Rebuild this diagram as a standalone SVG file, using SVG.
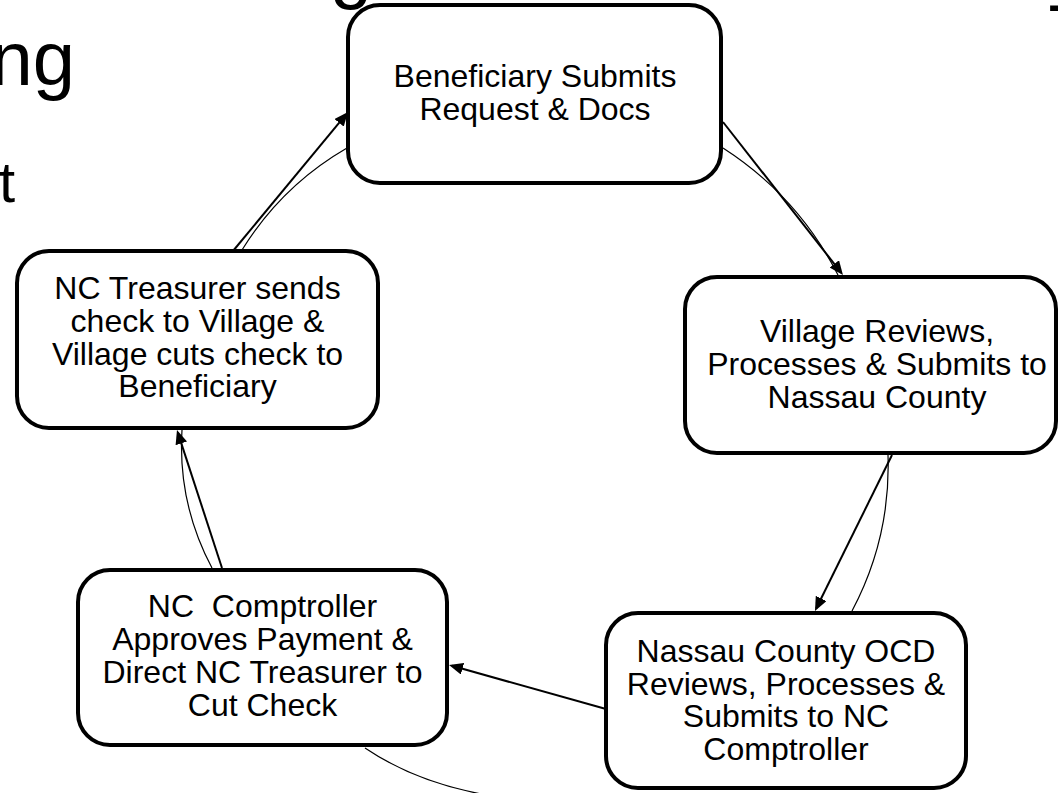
<svg xmlns="http://www.w3.org/2000/svg" width="1058" height="793" viewBox="0 0 1058 793">
<style>
.bg { font-family: "Liberation Sans", Arial, sans-serif; fill:#000; }
.node rect { fill:#fff; stroke:#000; stroke-width:4; }
.node text { font-family: "Liberation Sans", Arial, sans-serif; font-size:32px; text-anchor:middle; fill:#000; }
.arrow { stroke:#000; stroke-width:2; fill:none; marker-end:url(#ah); }
.arc { stroke:#000; stroke-width:1.2; fill:none; }
</style>
<defs>
<marker id="ah" viewBox="0 0 14 12" refX="11" refY="6" markerWidth="14" markerHeight="12" markerUnits="userSpaceOnUse" orient="auto">
<path d="M0,0 L14,6 L0,12 z" fill="#000"/>
</marker>
</defs>
<rect width="1058" height="793" fill="#fff"/>
<g id="background-text">
<text class="bg" x="75" y="85" font-size="76" text-anchor="end">ng</text>
<text class="bg" x="-1" y="202" font-size="58">t</text>
<text class="bg" x="330" y="-6" font-size="76">g</text>
<text class="bg" x="1047" y="27" font-size="70">-</text>
</g>
<g id="n1" class="node">
<rect x="348" y="5" width="373" height="178" rx="32"/>
<text x="535" y="87">Beneficiary Submits</text>
<text x="535" y="119.5">Request &amp; Docs</text>
</g>
<g id="n2" class="node">
<rect x="685" y="277" width="371" height="176" rx="32"/>
<text x="877" y="342">Village Reviews,</text>
<text x="877" y="375">Processes &amp; Submits to</text>
<text x="877" y="408">Nassau County</text>
</g>
<g id="n3" class="node">
<rect x="606" y="613" width="360" height="175" rx="32"/>
<text x="786" y="662">Nassau County OCD</text>
<text x="786" y="694.5">Reviews, Processes &amp;</text>
<text x="786" y="727">Submits to NC</text>
<text x="786" y="759.5">Comptroller</text>
</g>
<g id="n4" class="node">
<rect x="78" y="570" width="369" height="175" rx="32"/>
<text x="262.5" y="617" style="white-space:pre">NC  Comptroller</text>
<text x="262.5" y="650">Approves Payment &amp;</text>
<text x="262.5" y="683">Direct NC Treasurer to</text>
<text x="262.5" y="716">Cut Check</text>
</g>
<g id="n5" class="node">
<rect x="17" y="251" width="361" height="177" rx="32"/>
<text x="197.5" y="299">NC Treasurer sends</text>
<text x="197.5" y="332">check to Village &amp;</text>
<text x="197.5" y="365">Village cuts check to</text>
<text x="197.5" y="397">Beneficiary</text>
</g>
<g id="connectors">
<path class="arc" d="M242,250 A300,300 0 0 1 347,148"/>
<path class="arc" d="M723,148 A330,330 0 0 1 838,275"/>
<path class="arc" d="M888,455 A310,310 0 0 1 852,611"/>
<path class="arc" d="M365,748 Q460,812 620,800"/>
<path class="arc" d="M212,568 A260,260 0 0 1 182,430"/>
<line class="arrow" x1="233" y1="251" x2="346.1" y2="114.3"/>
<line class="arrow" x1="723" y1="122" x2="841.1" y2="272.6"/>
<line class="arrow" x1="892" y1="455" x2="816.3" y2="608.3"/>
<line class="arrow" x1="606" y1="709" x2="451.9" y2="665.8"/>
<line class="arrow" x1="222" y1="568" x2="177.9" y2="432.9"/>
</g>
</svg>
